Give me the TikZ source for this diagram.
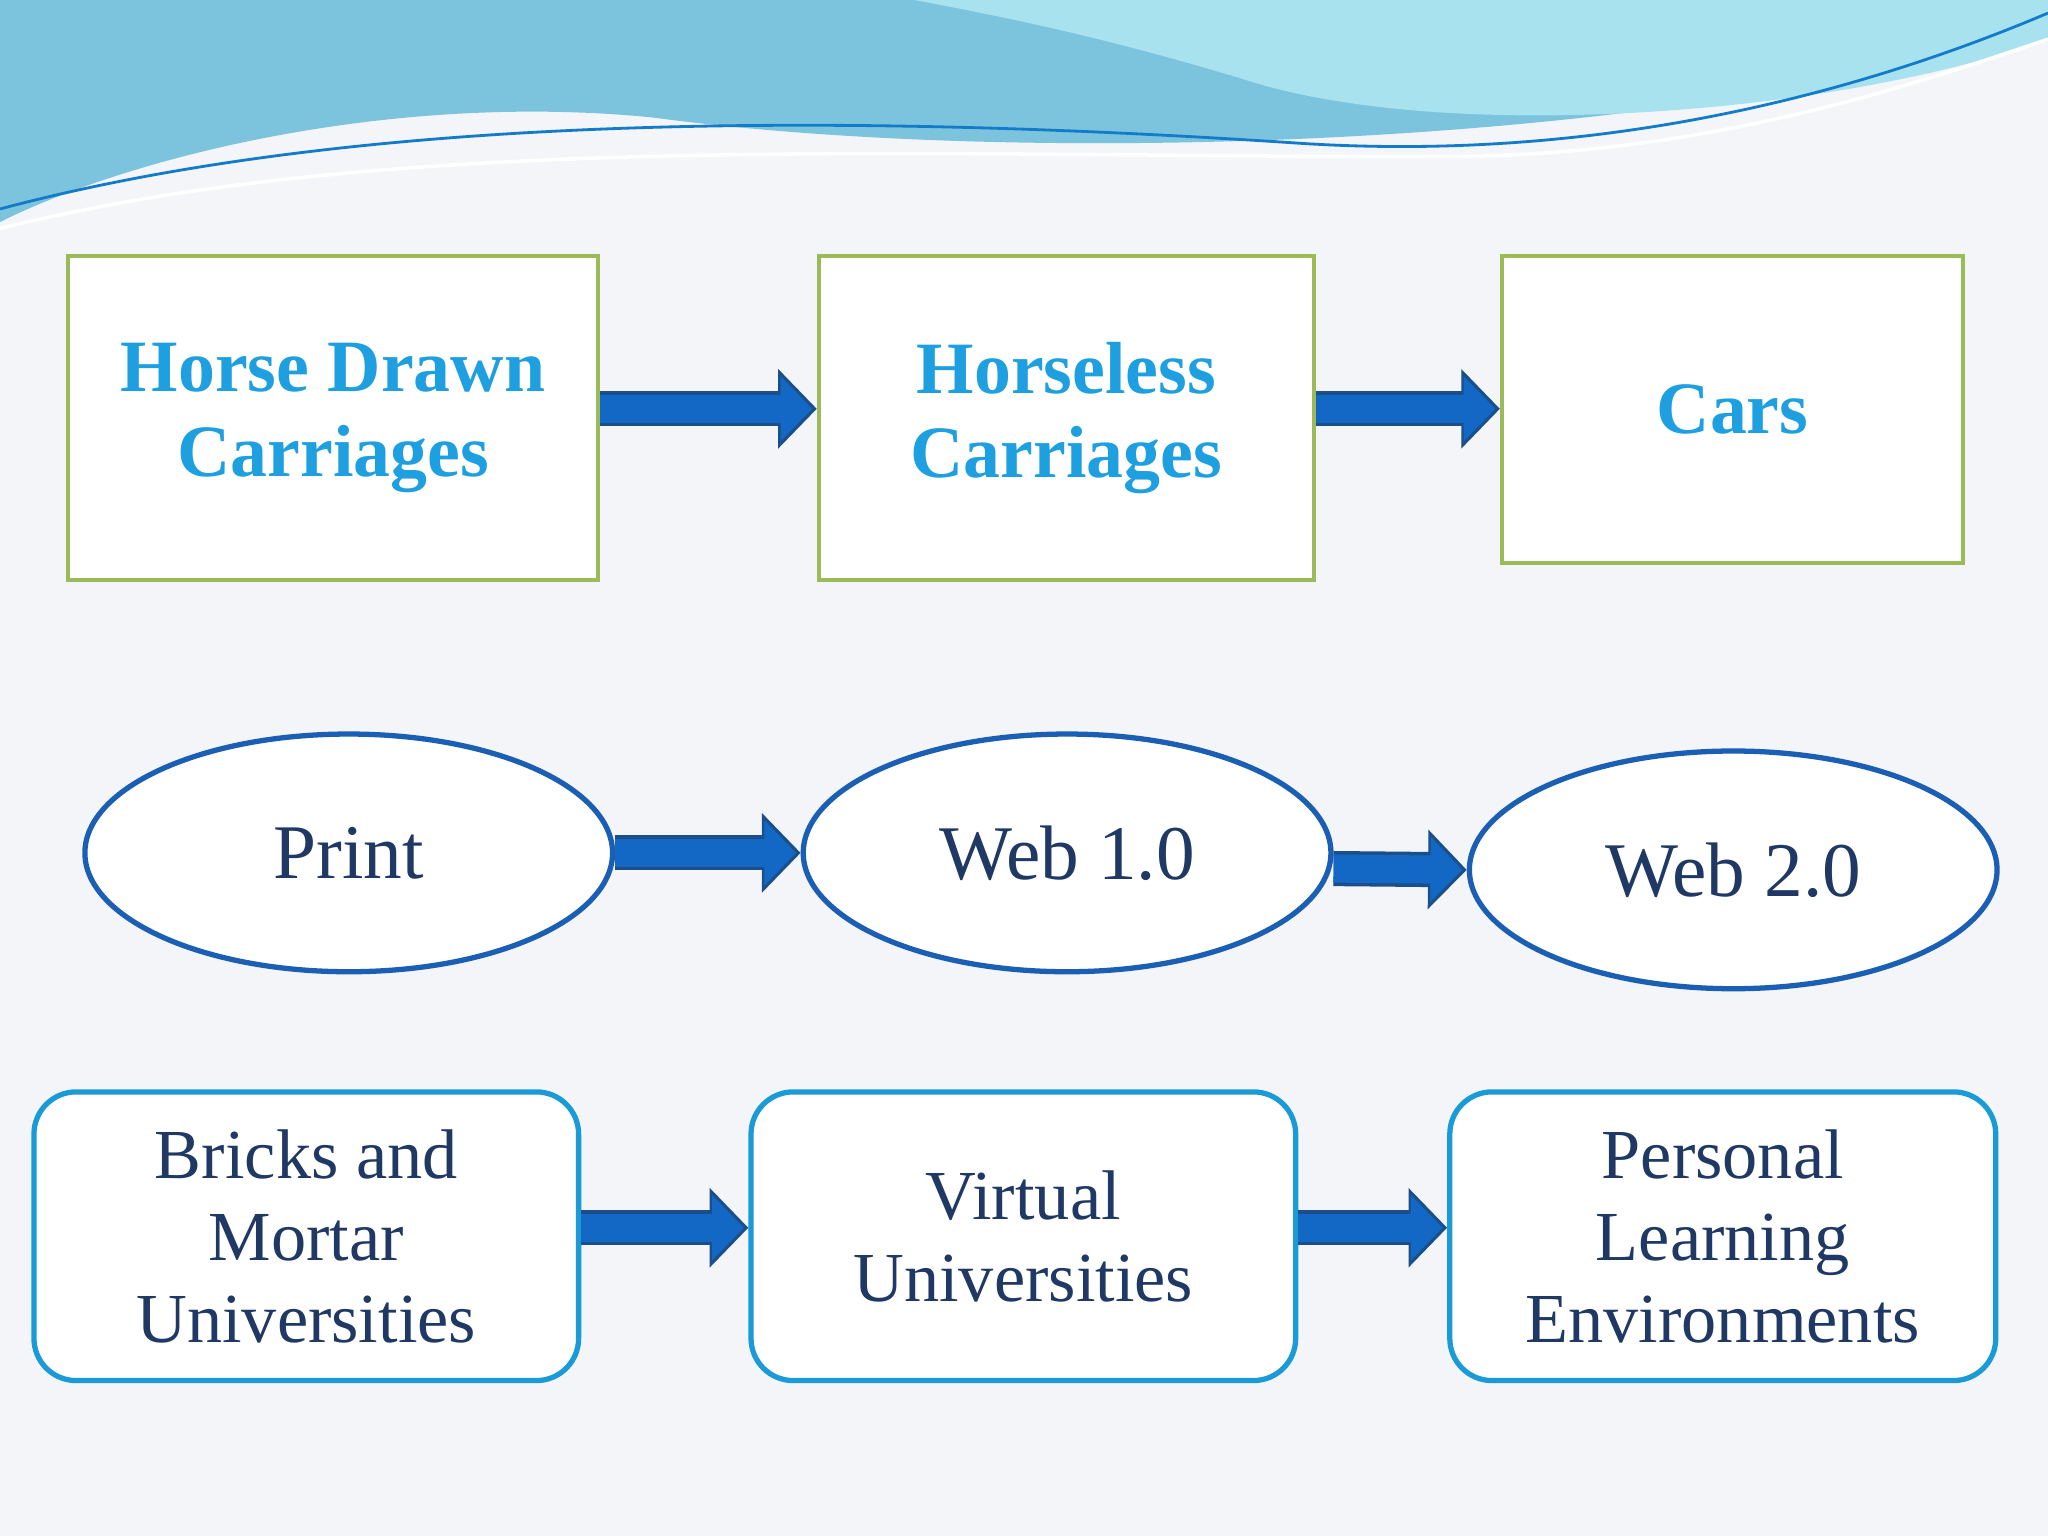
\documentclass[tikz,border=0pt]{standalone}
\usepackage{fontspec}
\setmainfont{Liberation Serif}
\usetikzlibrary{arrows.meta,shapes.geometric}
\definecolor{bg}{HTML}{F4F5F8}
\definecolor{boxgreen}{HTML}{9BBB59}
\definecolor{arrowblue}{HTML}{1268C4}
\definecolor{arrowedge}{HTML}{1A4F8A}
\definecolor{ellblue}{HTML}{1A5FB4}
\definecolor{rrblue}{HTML}{1A9BD7}
\definecolor{txtblue}{HTML}{1F3864}
\definecolor{titleblue}{HTML}{1E9FE0}
\definecolor{waveA}{HTML}{7CC4DE}
\definecolor{waveB}{HTML}{A8E2EE}
\begin{document}
\begin{tikzpicture}[x=0.013061cm,y=-0.013061cm,
  sqbox/.style={draw=boxgreen,line width=1.2pt,fill=white},
  ell/.style={ellipse,draw=ellblue,line width=1.5pt,fill=white,font=\fontsize{22}{26}\selectfont,text=txtblue},
  rbox/.style={draw=rrblue,line width=1.5pt,rounded corners=12pt,fill=white,font=\fontsize{20}{23.4}\selectfont,text=txtblue,align=center},
  ttl/.style={font=\bfseries\fontsize{21}{24}\selectfont,text=titleblue,align=center},
  blk/.style={draw=arrowedge,line width=10pt,-{Triangle[length=11pt,width=22pt]}},
  blkin/.style={draw=arrowblue,line width=8pt,-{Triangle[length=9pt,width=18pt]},shorten >=1.3pt}]
\fill[bg] (0,0) rectangle (1568,1176);
\useasboundingbox (0,0) rectangle (1568,1176);
% top wave
\fill[waveA] (0,0) -- (1568,0) -- (1568,20) .. controls (1300,110) and (800,130) .. (500,90) .. controls (300,70) and (100,120) .. (0,170) -- cycle;
\fill[waveB] (700,0) -- (1568,0) -- (1568,30) .. controls (1400,90) and (1100,110) .. (950,60) .. controls (850,30) and (780,15) .. (700,0) -- cycle;
\draw[cyan!60!blue,line width=0.8pt] (0,160) .. controls (300,80) and (700,90) .. (1000,110) .. controls (1250,125) and (1450,60) .. (1568,10);
\draw[white,line width=1pt] (0,175) .. controls (300,100) and (700,120) .. (1100,120) .. controls (1300,120) and (1450,70) .. (1568,30);
% row 1
\node[sqbox,minimum width=406*0.013061cm,minimum height=248*0.013061cm] (hd) at (255,320) {};
\node[ttl] at (hd) {Horse Drawn\\Carriages};
\node[sqbox,minimum width=379*0.013061cm,minimum height=248*0.013061cm] (hl) at (816.5,320) {};
\node[ttl] at (hl) {Horseless\\Carriages};
\node[sqbox,minimum width=353*0.013061cm,minimum height=235*0.013061cm] (cars) at (1326.5,313.5) {};
\node[ttl] at (cars) {Cars};
\draw[blk] (hd.east|-0,313) -- (hl.west|-0,313);
\draw[blkin] (hd.east|-0,313) -- (hl.west|-0,313);
\draw[blk] (hl.east|-0,313) -- (cars.west|-0,313);
\draw[blkin] (hl.east|-0,313) -- (cars.west|-0,313);
% row 2
\node[ell,minimum width=404*0.013061cm,minimum height=182*0.013061cm] (pr) at (267,653) {Print};
\node[ell,minimum width=404*0.013061cm,minimum height=182*0.013061cm] (w1) at (817,653) {Web 1.0};
\node[ell,minimum width=404*0.013061cm,minimum height=182*0.013061cm] (w2) at (1327,666) {Web 2.0};
\draw[blk] (pr.east) -- (w1.west);
\draw[blkin] (pr.east) -- (w1.west);
\draw[blk] (w1.east|-0,665) -- (w2.west);
\draw[blkin] (w1.east|-0,665) -- (w2.west);
% row 3
\node[rbox,minimum width=417*0.013061cm,minimum height=221*0.013061cm] (bm) at (234.5,946.5) {Bricks and\\Mortar\\Universities};
\node[rbox,minimum width=417*0.013061cm,minimum height=221*0.013061cm] (vu) at (783.5,946.5) {Virtual\\Universities};
\node[rbox,minimum width=418*0.013061cm,minimum height=221*0.013061cm] (ple) at (1319,946.5) {Personal\\Learning\\Environments};
\draw[blk] (bm.east|-0,940) -- (vu.west|-0,940);
\draw[blkin] (bm.east|-0,940) -- (vu.west|-0,940);
\draw[blk] (vu.east|-0,940) -- (ple.west|-0,940);
\draw[blkin] (vu.east|-0,940) -- (ple.west|-0,940);
\end{tikzpicture}
\end{document}
